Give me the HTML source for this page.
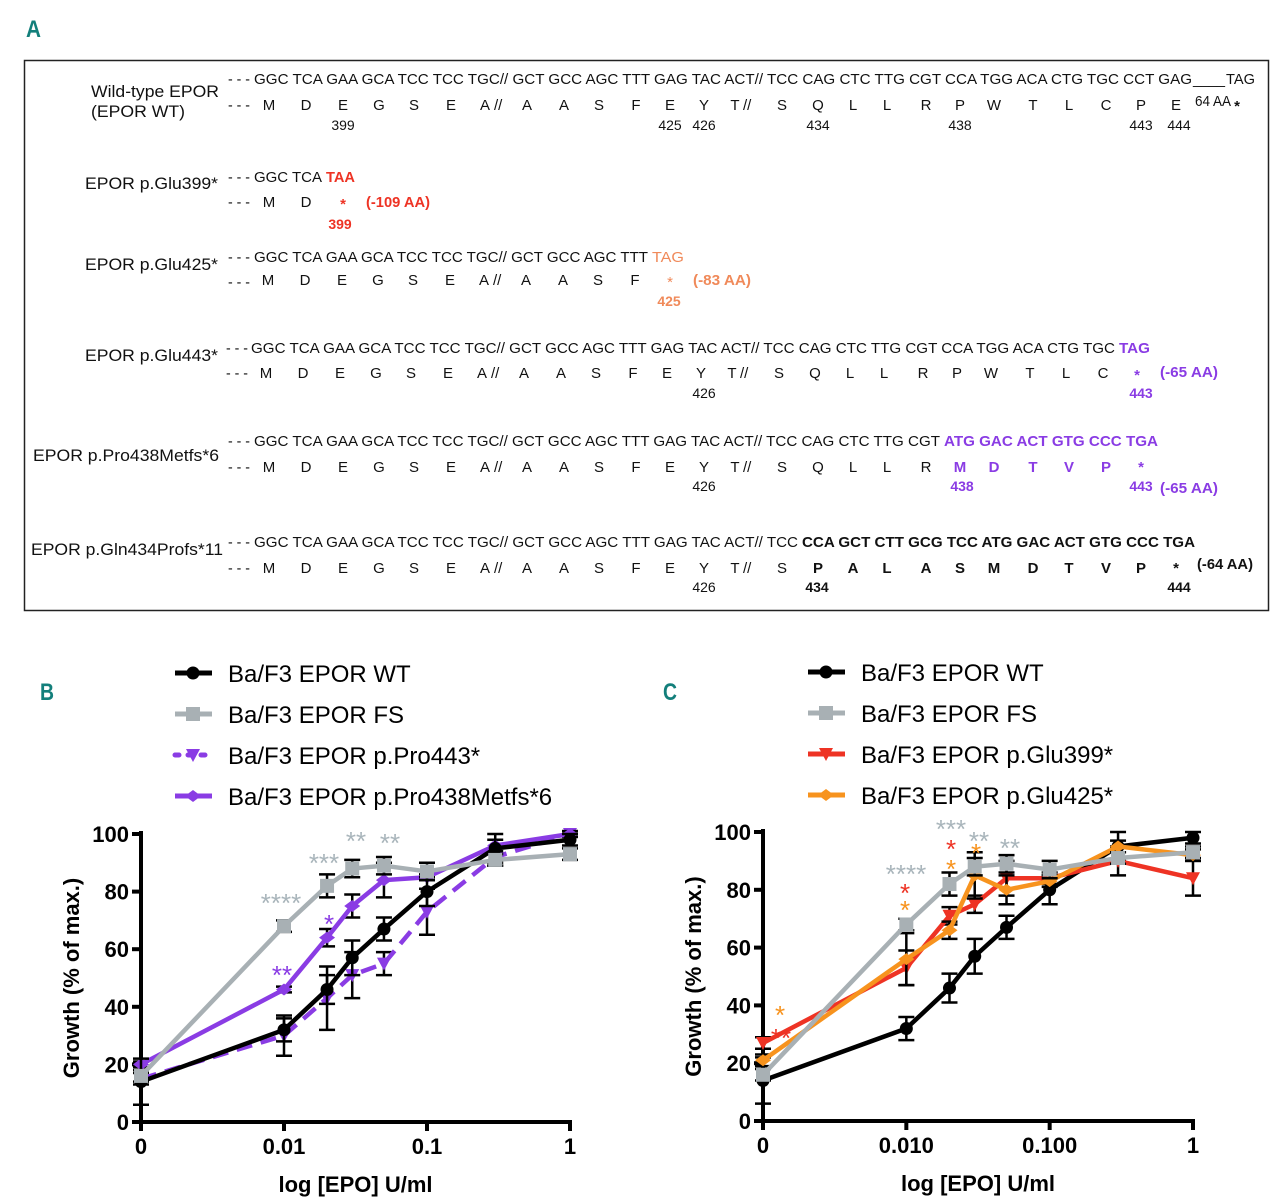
<!DOCTYPE html>
<html><head><meta charset="utf-8">
<style>
html,body{margin:0;padding:0;background:#fff;}
svg{display:block;font-family:"Liberation Sans",sans-serif;}
.seq{font-size:15px;fill:#111;}
.lab{font-size:16.5px;fill:#111;}
.num{font-size:14px;fill:#111;}
.b{font-weight:bold;}
</style></head>
<body>
<svg id="fig" width="1280" height="1201" viewBox="0 0 1280 1201" xmlns="http://www.w3.org/2000/svg">
<text x="26" y="37" font-size="24" font-weight="bold" fill="#137f7b" textLength="15" lengthAdjust="spacingAndGlyphs">A</text>
<rect x="24.5" y="60.5" width="1244" height="550" fill="none" stroke="#222" stroke-width="1.5"/>
<g id="panelA"></g>
<text x="40" y="700" font-size="24" font-weight="bold" fill="#137f7b" textLength="14" lengthAdjust="spacingAndGlyphs">B</text>
<text x="663" y="700" font-size="24" font-weight="bold" fill="#137f7b" textLength="14" lengthAdjust="spacingAndGlyphs">C</text>
<g id="chartB"></g>
<g id="chartC"></g>
</svg>
<script>
// ---- Chart data ----
const doses = [0, 0.01, 0.02, 0.03, 0.05, 0.1, 0.3, 1];
const xTicksB = ["0", "0.01", "0.1", "1"];
const xTicksC = ["0", "0.010", "0.100", "1"];
const yTicks = [0, 20, 40, 60, 80, 100];
const wtVals  = [14, 32, 46, 57, 67, 80, 95, 98];
const wtErr   = [8, 4, 5, 6, 4, 5, 5, 2];
const fsVals  = [16, 68, 82, 88, 89, 87, 91, 93];
const fsErr   = [2, 2, 4, 3, 3, 3, 2, 2];
const p443Vals = [15, 30, 43, 51, 55, 73, 92, 100];
const p443Err  = [2, 7, 11, 8, 4, 8, 3, 1];
const p438Vals = [20, 46, 64, 75, 84, 85, 96, 100];
const p438Err  = [1, 1, 3, 4, 6, 1, 2, 1];
const g399Vals = [27, 53, 71, 75, 84, 84, 90, 84];
const g399Err  = [2, 6, 3, 3, 6, 2, 5, 6];
const g425Vals = [21, 56, 66, 85, 80, 83, 95, 92];
const g425Err  = [2, 9, 3, 8, 5, 2, 2, 2];

const NS = "http://www.w3.org/2000/svg";
function mk(tag, attrs, parent){
  const e = document.createElementNS(NS, tag);
  for (const k in attrs) e.setAttribute(k, attrs[k]);
  parent.appendChild(e);
  return e;
}
const GREY = "#a8b0b4", PURPLE = "#8a3ce4", RED = "#ee3324", ORANGE = "#f7931e", AST_GREY = "#a9b5bb";

// ---- Panel A ----
const A = document.getElementById("panelA");
function txt(x, y, s, cls, opts){
  opts = opts || {};
  const t = mk("text", {x: x, y: y, class: cls}, A);
  if (opts.fill) t.setAttribute("fill", opts.fill), t.style.fill = opts.fill;
  if (opts.anchor) t.setAttribute("text-anchor", opts.anchor);
  if (opts.len) { t.setAttribute("textLength", opts.len); t.setAttribute("lengthAdjust", "spacingAndGlyphs"); }
  t.textContent = s;
  
  
  return t;
}
const aaX = [269,306,343,379,414,451,485,527,564,599,636,670,704,735,782,818,853,887,926,960,994,1033,1069,1106,1141,1176];
const wtAA = "M D E G S E A A A S F E Y T S Q L L R P W T L C P E".split(" ");
function slashes(x, y){ txt(x, y, "//", "seq", {name:'break-mark'}); }
function aaRow(y, letters, n, dx, special){
  for (let i = 0; i < n; i++){
    const sp = special && special[i];
    txt(aaX[i] + dx, y, sp ? sp.s : letters[i], sp && sp.b ? "seq b" : "seq", {anchor:"middle", fill: sp ? sp.c : null, name:'amino-acid'});
  }
}
function dashes(x, y){ txt(x, y, "- - -", "seq", {len:22, name:'leader-dashes'}); }
const codFull = "GGC TCA GAA GCA TCC TCC TGC// GCT GCC AGC TTT GAG TAC ACT// TCC CAG CTC TTG CGT CCA TGG ACA CTG TGC CCT GAG";

// Row 1 WT
txt(91, 97, "Wild-type EPOR", "lab", {len:128, name:'row-label-wt'});
txt(91, 117, "(EPOR WT)", "lab", {len:94, name:'row-label-wt-sub'});
dashes(228, 84); dashes(228, 110);
txt(254, 84, codFull, "seq", {len:938, name:'codon-row-wt'});
txt(1193, 84, "____", "seq", {len:32});
txt(1226, 84, "TAG", "seq", {len:29});
aaRow(110, wtAA, 26, 0);
slashes(494, 110); slashes(743, 110);
txt(1195, 106, "64 AA", "seq", {len:36, name:'gap-label'});
A.lastChild.setAttribute("font-size","12");
txt(1237, 111, "*", "seq b", {anchor:"middle"});
[[343,"399"],[670,"425"],[704,"426"],[818,"434"],[960,"438"],[1141,"443"],[1179,"444"]].forEach(p=>txt(p[0],130,p[1],"num",{anchor:"middle",name:'residue-number'}));

// Row 2 Glu399
txt(218, 189, "EPOR p.Glu399*", "lab", {anchor:"end", len:133, name:'row-label-glu399'});
dashes(228, 182); dashes(228, 207);
txt(254, 182, "GGC TCA", "seq", {len:68});
txt(326, 182, "TAA", "seq b", {len:29, fill:RED});
aaRow(207, wtAA, 2, 0);
txt(343, 209, "*", "seq b", {anchor:"middle", fill:RED});
txt(366, 207, "(-109 AA)", "seq b", {len:64, fill:RED});
txt(340, 229, "399", "num b", {anchor:"middle", fill:RED});

// Row 3 Glu425
txt(218, 270, "EPOR p.Glu425*", "lab", {anchor:"end", len:133, name:'row-label-glu425'});
dashes(228, 262); dashes(228, 287);
txt(254, 262, "GGC TCA GAA GCA TCC TCC TGC// GCT GCC AGC TTT", "seq", {len:394});
txt(652, 262, "TAG", "seq", {len:32, fill:"#f08a5a"});
aaRow(285, wtAA, 11, -1);
slashes(493, 285);
txt(670, 287, "*", "seq", {anchor:"middle", fill:"#f08a5a"});
txt(693, 285, "(-83 AA)", "seq b", {len:58, fill:"#f08a5a"});
txt(669, 306, "425", "num b", {anchor:"middle", fill:"#f08a5a"});

// Row 4 Glu443
txt(218, 361, "EPOR p.Glu443*", "lab", {anchor:"end", len:133, name:'row-label-glu443'});
dashes(226, 353); dashes(226, 378);
txt(251, 353, "GGC TCA GAA GCA TCC TCC TGC// GCT GCC AGC TTT GAG TAC ACT// TCC CAG CTC TTG CGT CCA TGG ACA CTG TGC", "seq", {len:864});
txt(1119, 353, "TAG", "seq b", {len:31, fill:PURPLE});
aaRow(378, wtAA, 24, -3);
slashes(491, 378); slashes(740, 378);
txt(1137, 380, "*", "seq b", {anchor:"middle", fill:PURPLE});
txt(1160, 377, "(-65 AA)", "seq b", {len:58, fill:PURPLE});
txt(704, 398, "426", "num", {anchor:"middle"});
txt(1141, 398, "443", "num b", {anchor:"middle", fill:PURPLE});

// Row 5 Pro438Metfs*6
txt(33, 461, "EPOR p.Pro438Metfs*6", "lab", {len:186, name:'row-label-pro438'});
dashes(228, 446); dashes(228, 472);
txt(254, 446, "GGC TCA GAA GCA TCC TCC TGC// GCT GCC AGC TTT GAG TAC ACT// TCC CAG CTC TTG CGT", "seq", {len:686});
txt(944, 446, "ATG GAC ACT GTG CCC TGA", "seq b", {len:214, fill:PURPLE});
for (let i = 0; i < 25; i++){
  const sp = {19:"M",20:"D",21:"T",22:"V",23:"P",24:"*"}[i];
  txt(aaX[i], 472, sp || wtAA[i], sp ? "seq b" : "seq", {anchor:"middle", fill: sp ? PURPLE : null, name:'amino-acid'});
}
slashes(494, 472); slashes(743, 472);
txt(704, 491, "426", "num", {anchor:"middle"});
txt(962, 491, "438", "num b", {anchor:"middle", fill:PURPLE});
txt(1141, 491, "443", "num b", {anchor:"middle", fill:PURPLE});
txt(1160, 493, "(-65 AA)", "seq b", {len:58, fill:PURPLE});

// Row 6 Gln434Profs*11
txt(31, 555, "EPOR p.Gln434Profs*11", "lab", {len:192, name:'row-label-gln434'});
dashes(228, 547); dashes(228, 573);
txt(254, 547, "GGC TCA GAA GCA TCC TCC TGC// GCT GCC AGC TTT GAG TAC ACT// TCC", "seq", {len:544});
txt(802, 547, "CCA GCT CTT GCG TCC ATG GAC ACT GTG CCC TGA", "seq b", {len:393});
const r6 = {15:{s:"P",b:1},16:{s:"A",b:1},17:{s:"L",b:1},18:{s:"A",b:1},19:{s:"S",b:1},20:{s:"M",b:1},21:{s:"D",b:1},22:{s:"T",b:1},23:{s:"V",b:1},24:{s:"P",b:1},25:{s:"*",b:1}};
aaRow(573, wtAA, 26, 0, r6);
slashes(494, 573); slashes(743, 573);
txt(1197, 569, "(-64 AA)", "seq b", {len:56});
txt(704, 592, "426", "num", {anchor:"middle"});
txt(817, 592, "434", "num b", {anchor:"middle"});
txt(1179, 592, "444", "num b", {anchor:"middle"});

// ---- Charts ----
function drawChart(gid, cfg){
  const g = document.getElementById(gid);
  const xs = d => cfg.xA + (Math.log10(d === 0 ? 0.001 : d) + 3) * (cfg.xB - cfg.xA) / 3;
  const ys = v => cfg.yZero - v * (cfg.yZero - cfg.yTop) / 100;
  const ya = mk("line", {x1:cfg.xA, y1:cfg.yTop-3, x2:cfg.xA, y2:cfg.yZero+2, stroke:"#000","stroke-width":4}, g);
  
  
  const xa = mk("line", {x1:cfg.xA-2, y1:cfg.yZero, x2:cfg.xB+2, y2:cfg.yZero, stroke:"#000","stroke-width":4}, g);
  
  
  yTicks.forEach(v => {
    const t = mk("line", {x1:cfg.xA-9, y1:ys(v), x2:cfg.xA, y2:ys(v), stroke:"#000","stroke-width":4}, g);
    
    
    const l = mk("text", {x:cfg.xA-12, y:ys(v)+8, "text-anchor":"end","font-size":22,"font-weight":"bold"}, g);
    l.textContent = v;
    
    
  });
  const tickDoses = [0, 0.01, 0.1, 1];
  tickDoses.forEach((d, i) => {
    const t = mk("line", {x1:xs(d), y1:cfg.yZero, x2:xs(d), y2:cfg.yZero+9, stroke:"#000","stroke-width":4}, g);
    
    
    const l = mk("text", {x:xs(d), y:cfg.yZero+32, "text-anchor":"middle","font-size":22,"font-weight":"bold"}, g);
    l.textContent = cfg.xLabels[i];
    
    
  });
  const xt = mk("text", {x:(cfg.xA+cfg.xB)/2, y:cfg.yZero+70, "text-anchor":"middle","font-size":22,"font-weight":"bold"}, g);
  xt.textContent = "log [EPO] U/ml";
  
  
  const ytx = cfg.xA - 62, yty = (cfg.yTop + cfg.yZero)/2;
  const yt = mk("text", {x:ytx, y:yty, "text-anchor":"middle","font-size":22,"font-weight":"bold", transform:`rotate(-90 ${ytx} ${yty})`}, g);
  yt.textContent = "Growth (% of max.)";
  
  

  cfg.series.forEach(s => {
    const sg = mk("g", {}, g);
    
    
    s.vals.forEach((v, i) => {
      const x = xs(doses[i]), e = s.err[i];
      const eb = mk("path", {d:`M${x},${ys(v-e)}V${ys(v+e)}M${x-8},${ys(v+e)}H${x+8}M${x-8},${ys(v-e)}H${x+8}`, stroke:"#000","stroke-width":2.5, fill:"none"}, sg);
      
      
    });
    const pts = s.vals.map((v, i) => xs(doses[i]) + "," + ys(v)).join(" ");
    const pl = mk("polyline", {points:pts, fill:"none", stroke:s.color, "stroke-width":4.5, "stroke-linejoin":"round"}, sg);
    if (s.dash) pl.setAttribute("stroke-dasharray", "16,9");
    
    
    s.vals.forEach((v, i) => {
      const m = marker(sg, s.marker, xs(doses[i]), ys(v), s.color);
      
      
    });
  });
  cfg.stars.forEach(a => {
    const t = mk("text", {x:a[0], y:a[1]+12, "text-anchor":"middle","font-size":26, fill:a[3]}, g);
    t.textContent = a[2];
    
    
  });
  cfg.series.slice().sort((a,b)=>a.leg-b.leg).forEach((s, i) => {
    const y = cfg.legY + i * 41;
    const lg = mk("g", {}, g);
    
    
    const ln = mk("line", {x1:cfg.legX, y1:y, x2:cfg.legX+37, y2:y, stroke:s.color, "stroke-width":5}, lg);
    if (s.dash) { ln.setAttribute("stroke-dasharray","4,9"); ln.setAttribute("stroke-linecap","round"); }
    marker(lg, s.marker, cfg.legX+18, y, s.color);
    const t = mk("text", {x:cfg.legX+53, y:y+9, "font-size":24}, lg);
    t.textContent = s.label;
  });
}
function marker(p, type, x, y, c){
  if (type === "circle") return mk("circle", {cx:x, cy:y, r:6.5, fill:c}, p);
  if (type === "square") return mk("rect", {x:x-7, y:y-7, width:14, height:14, fill:c}, p);
  if (type === "tri") return mk("path", {d:`M${x-7},${y-6}H${x+7}L${x},${y+7}Z`, fill:c}, p);
  return mk("path", {d:`M${x-8},${y}L${x},${y-6}L${x+8},${y}L${x},${y+6}Z`, fill:c}, p);
}

drawChart("chartB", {xA:141, xB:570, yTop:834, yZero:1122, xLabels:xTicksB, legX:175, legY:673,
  series:[
    {name:"series-pro443", label:"Ba/F3 EPOR p.Pro443*", vals:p443Vals, err:p443Err, color:PURPLE, marker:"tri", dash:1, leg:2},
    {name:"series-pro438metfs", label:"Ba/F3 EPOR p.Pro438Metfs*6", vals:p438Vals, err:p438Err, color:PURPLE, marker:"diamond", leg:3},
    {name:"series-wt", label:"Ba/F3 EPOR WT", vals:wtVals, err:wtErr, color:"#000", marker:"circle", leg:0},
    {name:"series-fs", label:"Ba/F3 EPOR FS", vals:fsVals, err:fsErr, color:GREY, marker:"square", leg:1}
  ],
  stars:[[281,900,"****",AST_GREY],[324,860,"***",AST_GREY],[356,838,"**",AST_GREY],[390,840,"**",AST_GREY],[329,921,"*",PURPLE],[282,972,"**",PURPLE]]
});
drawChart("chartC", {xA:763, xB:1193, yTop:832, yZero:1121, xLabels:xTicksC, legX:808, legY:672,
  series:[
    {name:"series-wt", label:"Ba/F3 EPOR WT", vals:wtVals, err:wtErr, color:"#000", marker:"circle", leg:0},
    {name:"series-glu399", label:"Ba/F3 EPOR p.Glu399*", vals:g399Vals, err:g399Err, color:RED, marker:"tri", leg:2},
    {name:"series-glu425", label:"Ba/F3 EPOR p.Glu425*", vals:g425Vals, err:g425Err, color:ORANGE, marker:"diamond", leg:3},
    {name:"series-fs", label:"Ba/F3 EPOR FS", vals:fsVals, err:fsErr, color:GREY, marker:"square", leg:1}
  ],
  stars:[[906,871,"****",AST_GREY],[951,826,"***",AST_GREY],[979,838,"**",AST_GREY],[1010,845,"**",AST_GREY],
         [905,890,"*",RED],[905,907,"*",ORANGE],[951,846,"*",RED],[951,866,"*",ORANGE],[976,850,"*",ORANGE],
         [780,1012,"*",ORANGE],[781,1035,"**",RED]]
});
</script>
</body></html>
